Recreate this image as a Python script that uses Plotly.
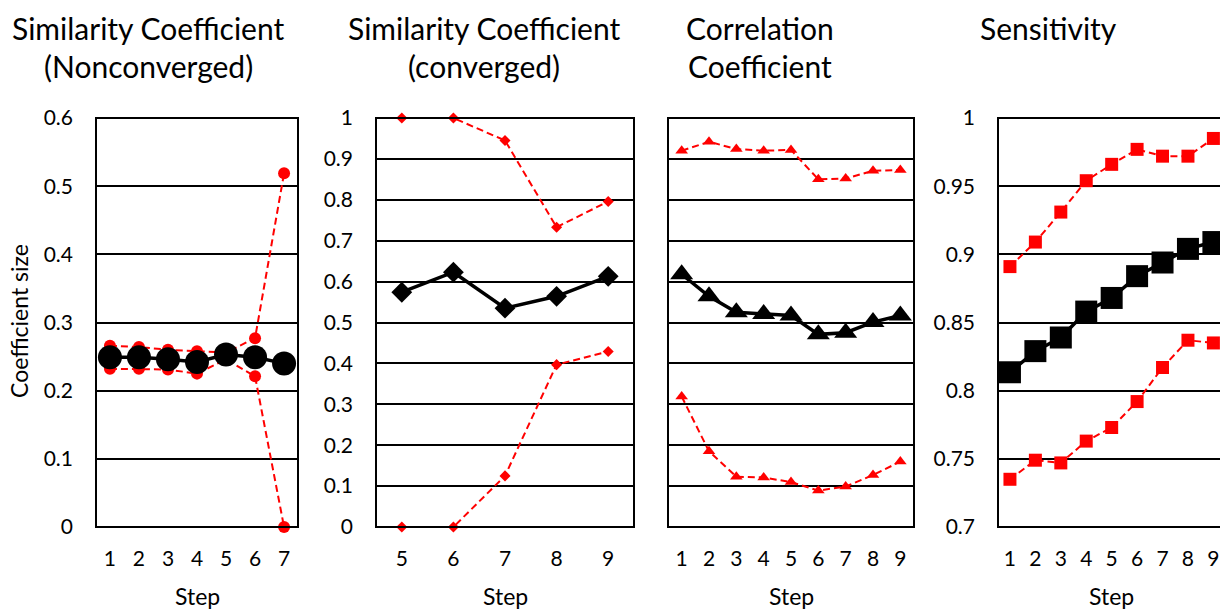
import plotly.graph_objects as go

# ---------------- data ----------------
steps_nc = [1, 2, 3, 4, 5, 6, 7]
nc_mean = [0.249, 0.249, 0.246, 0.242, 0.253, 0.249, 0.240]
nc_upper = [0.266, 0.264, 0.260, 0.258, 0.256, 0.277, 0.519]
nc_lower = [0.232, 0.232, 0.231, 0.225, 0.246, 0.221, 0.0]

steps_c = [5, 6, 7, 8, 9]
c_mean = [0.574, 0.623, 0.535, 0.564, 0.613]
c_upper = [1.0, 1.0, 0.945, 0.733, 0.796]
c_lower = [0.0, 0.0, 0.125, 0.397, 0.429]

steps_corr = [1, 2, 3, 4, 5, 6, 7, 8, 9]
corr_mean = [0.618, 0.564, 0.525, 0.521, 0.517, 0.471, 0.475, 0.501, 0.517]
corr_upper = [0.920, 0.942, 0.924, 0.920, 0.922, 0.850, 0.852, 0.871, 0.873]
corr_lower = [0.319, 0.185, 0.123, 0.121, 0.110, 0.089, 0.099, 0.127, 0.160]

steps_sens = [1, 2, 3, 4, 5, 6, 7, 8, 9]
sens_mean = [0.8135, 0.829, 0.839, 0.858, 0.868, 0.884, 0.894, 0.904, 0.909]
sens_upper = [0.891, 0.909, 0.931, 0.954, 0.966, 0.977, 0.972, 0.972, 0.985]
sens_lower = [0.735, 0.749, 0.747, 0.763, 0.773, 0.792, 0.817, 0.837, 0.835]

titles = [["Similarity Coefficient", "(Nonconverged)"],
          ["Similarity Coefficient", "(converged)"],
          ["Correlation", "Coefficient"],
          ["Sensitivity"]]
x_title = "Step"
y_title = "Coefficient size"

# ---------------- layout ----------------
W, H = 1220, 611
FONT = "Lato"
RED = "#ff0000"


def px_x(p):
    return p / W


def px_y(p):
    return 1 - p / H


panels = [
    dict(x=steps_nc, m=nc_mean, u=nc_upper, l=nc_lower, sym="circle", bs=24, rs=12,
         dom=(96, 298), xr=[0.52, 7.48], yr=[0, 0.6], dt=0.1, showlab=True, right=True,
         tx=148, sx=4.0),
    dict(x=steps_c, m=c_mean, u=c_upper, l=c_lower, sym="diamond", bs=16, rs=8.5,
         dom=(376, 634), xr=[4.5, 9.5], yr=[0, 1], dt=0.1, showlab=True, right=True,
         tx=484, sx=7.0),
    dict(x=steps_corr, m=corr_mean, u=corr_upper, l=corr_lower, sym="triangle-up", bs=20, rs=11,
         dom=(668, 914), xr=[0.5, 9.5], yr=[0, 1], dt=0.1, showlab=False, right=True,
         tx=760, sx=5.0),
    dict(x=steps_sens, m=sens_mean, u=sens_upper, l=sens_lower, sym="square", bs=22, rs=13,
         dom=(998, 1220), xr=[0.53, 9.26], yr=[0.7, 1.0], dt=0.05, showlab=True, right=False,
         tx=1048, sx=5.0),
]

fig = go.Figure()
ydom = [px_y(527), px_y(118)]
annotations = []
shapes = []
for i, p in enumerate(panels):
    n = "" if i == 0 else str(i + 1)
    xa, ya = "x" + n, "y" + n
    for series, color, size, width, dash in [
        (p["u"], RED, p["rs"], 2, "7px,4px"),
        (p["l"], RED, p["rs"], 2, "7px,4px"),
        (p["m"], "black", p["bs"], 3.5, "solid"),
    ]:
        fig.add_trace(go.Scatter(
            x=p["x"], y=series, xaxis=xa, yaxis=ya, mode="lines+markers",
            line=dict(color=color, width=width, dash=dash),
            marker=dict(symbol=p["sym"], size=size, color=color, line=dict(width=0)),
            showlegend=False, cliponaxis=False))
    fig.layout["xaxis" + n] = dict(
        domain=[px_x(p["dom"][0]), px_x(p["dom"][1])], range=p["xr"], anchor=ya,
        tickmode="array", tickvals=p["x"], ticktext=[str(v) for v in p["x"]],
        showgrid=False, zeroline=False, showline=False, ticks="",
        ticklabelstandoff=17, automargin=False, fixedrange=True,
        tickfont=dict(family=FONT, size=21, color="black"),
    )
    fig.layout["yaxis" + n] = dict(
        domain=ydom, range=p["yr"], anchor=xa, dtick=p["dt"], tick0=p["yr"][0],
        showgrid=True, gridcolor="black", gridwidth=1.6, zeroline=False,
        showline=False, ticks="", showticklabels=p["showlab"],
        ticklabelstandoff=22, automargin=False, fixedrange=True,
        tickfont=dict(family=FONT, size=21, color="black"),
    )
    # plot border
    x0 = px_x(p["dom"][0])
    x1 = px_x(p["dom"][1]) if p["right"] else 1.2
    shapes.append(dict(type="rect", xref="paper", yref="paper", x0=x0, x1=x1,
                       y0=ydom[0], y1=ydom[1], line=dict(color="black", width=2)))
    for j, line in enumerate(titles[i]):
        annotations.append(dict(text=line, xref="paper", yref="paper",
                                x=px_x(p["tx"]), y=px_y(28 + 38 * j),
                                xanchor="center", yanchor="middle",
                                showarrow=False,
                                font=dict(family=FONT, size=30, color="black")))
    # x axis title
    annotations.append(dict(text=x_title, xref=xa, yref="paper", x=p["sx"], y=px_y(596),
                            xanchor="center", yanchor="middle", showarrow=False,
                            font=dict(family=FONT, size=23, color="black")))

# y axis title
annotations.append(dict(text=y_title, xref="paper", yref="paper", x=px_x(19), y=px_y(321),
                        xanchor="center", yanchor="middle", textangle=-90, showarrow=False,
                        font=dict(family=FONT, size=23, color="black")))

fig.update_layout(
    width=W, height=H, margin=dict(l=0, r=0, t=0, b=0, autoexpand=False),
    paper_bgcolor="white", plot_bgcolor="white",
    annotations=annotations, shapes=shapes,
)

fig.write_html("out.html")
